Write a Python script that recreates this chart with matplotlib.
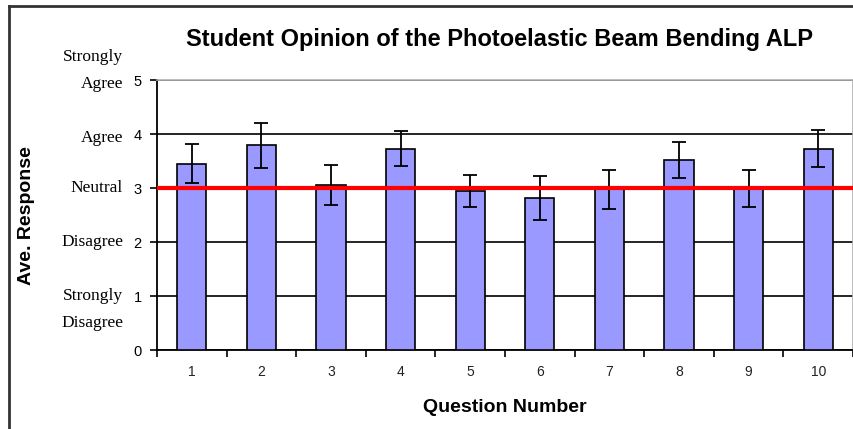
import matplotlib
matplotlib.use("Agg")
import matplotlib.pyplot as plt
from matplotlib.lines import Line2D

questions = ["1", "2", "3", "4", "5", "6", "7", "8", "9", "10"]
means = [3.45, 3.79, 3.05, 3.73, 2.94, 2.82, 2.98, 3.52, 2.99, 3.73]
errors = [0.36, 0.42, 0.37, 0.32, 0.30, 0.41, 0.36, 0.34, 0.35, 0.35]
yticks = [0, 1, 2, 3, 4, 5]
opinion_labels = ["", "Strongly\nDisagree", "Disagree", "Neutral", "Agree", "Strongly\nAgree"]
neutral = 3

W, H = 854, 429
fig = plt.figure(figsize=(W / 100, H / 100), dpi=100)
ax = fig.add_axes([157 / W, 1 - 350 / H, 696 / W, 270 / H])

x = list(range(len(questions)))
ax.bar(x, means, width=0.42, color="#9999ff", edgecolor="black", linewidth=1.2, zorder=3)
ax.errorbar(x, means, yerr=errors, fmt="none", ecolor="black", elinewidth=1.3,
            capsize=5, capthick=1.3, zorder=4)
ax.axhline(neutral, color="#ff0000", linewidth=3, zorder=5)

ax.set_xlim(-0.5, len(questions) - 0.5)
ax.set_ylim(0, 5)
ax.set_yticks(yticks)
ax.set_yticklabels([str(v) for v in yticks], fontfamily="Liberation Sans", fontsize=10.5)
ax.yaxis.grid(True, color="black", linewidth=1.2, zorder=0)
ax.set_axisbelow(True)
ax.tick_params(axis="y", length=5, width=1.2, pad=6)

ax.set_xticks(x)
ax.set_xticklabels(questions, fontfamily="Liberation Sans", fontsize=10, color="#222222")
ax.tick_params(axis="x", length=0, pad=11)
ax.set_xticks([i - 0.5 for i in range(len(questions) + 1)], minor=True)
ax.tick_params(axis="x", which="minor", length=5, width=1.2)

for s in ["left", "bottom"]:
    ax.spines[s].set_linewidth(1.3)
for s in ["top", "right"]:
    ax.spines[s].set_color("#b0b0b0")
    ax.spines[s].set_linewidth(1.2)

# opinion labels, drawn line by line
line_step = 19.5  # points between lines
for v, lab in zip(yticks, opinion_labels):
    if not lab:
        continue
    lines = lab.split("\n")
    if v > neutral:
        anchor = len(lines) - 1
        base = -3
    else:
        anchor = 0
        base = 0
    for i, ln in enumerate(lines):
        dy = base - (i - anchor) * line_step
        ax.annotate(ln, xy=(0, v), xycoords=ax.get_yaxis_transform(),
                    xytext=(-24.5, dy), textcoords="offset points",
                    ha="right", va="center", fontfamily="Liberation Serif",
                    fontsize=12.5, annotation_clip=False)

fig.text(505 / W, 1 - 407 / H, "Question Number", ha="center", va="center",
         fontfamily="Liberation Sans", fontweight="bold", fontsize=14)
fig.text(27 / W, 1 - 216 / H, "Ave. Response", rotation=90, ha="center", va="center",
         fontfamily="Liberation Sans", fontweight="bold", fontsize=14)
fig.text(500 / W, 1 - 46 / H, "Student Opinion of the Photoelastic Beam Bending ALP",
         ha="center", va="baseline", fontfamily="Liberation Sans", fontweight="bold",
         fontsize=17)

# figure frame lines (left and top)
fig.add_artist(Line2D([9 / W, 9 / W], [0, 1 - 6 / H], transform=fig.transFigure,
                      color="#333333", linewidth=2))
fig.add_artist(Line2D([9 / W, 1], [1 - 6 / H, 1 - 6 / H], transform=fig.transFigure,
                      color="#333333", linewidth=2))

fig.savefig("out.png", dpi=100)
